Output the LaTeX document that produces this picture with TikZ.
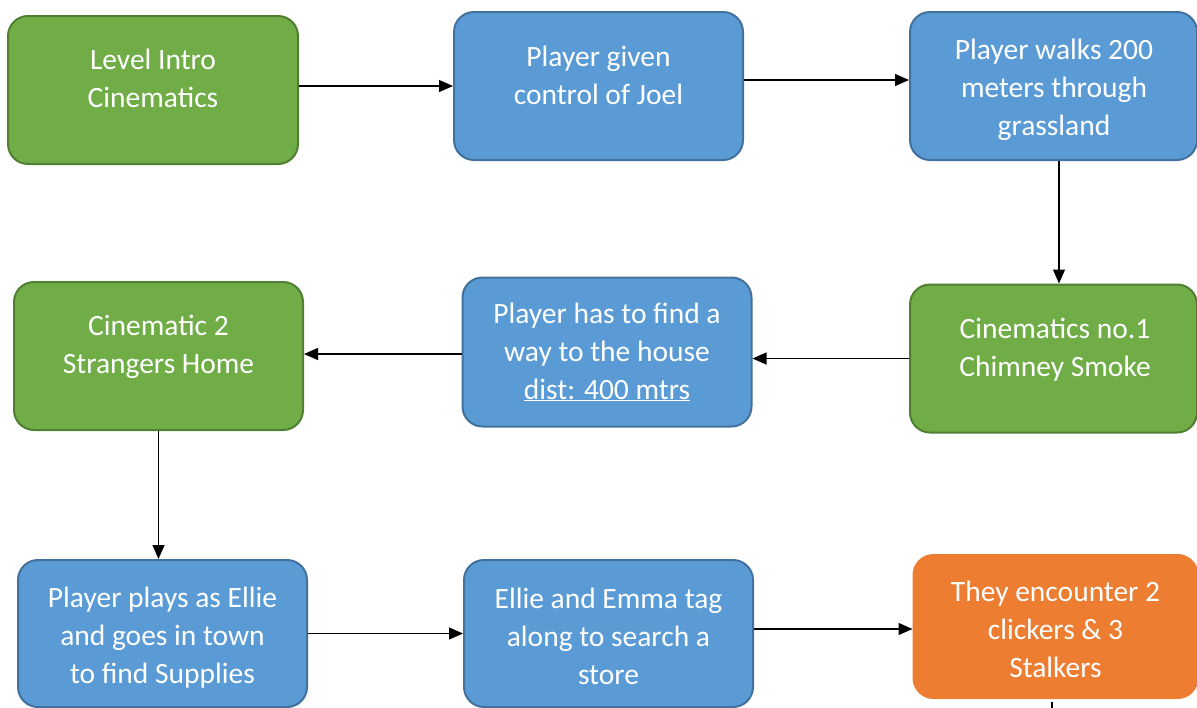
\documentclass[tikz,border=0pt]{standalone}
\usepackage{fontspec}
\setmainfont{Carlito}
\usetikzlibrary{arrows.meta}
\definecolor{gfill}{HTML}{70AD47}
\definecolor{gline}{HTML}{507E32}
\definecolor{bfill}{HTML}{5B9BD5}
\definecolor{bline}{HTML}{41719C}
\definecolor{ofill}{HTML}{ED7D31}
\tikzset{
  box/.style={rectangle, rounded corners=20pt, line width=2pt, inner sep=0pt},
  gbox/.style={box, fill=gfill, draw=gline},
  bbox/.style={box, fill=bfill, draw=bline},
  obox/.style={box, fill=ofill, draw=ofill},
  txt/.style={text=white, align=center, anchor=base, inner sep=0pt,
    font=\fontsize{29.5}{38}\selectfont},
  arr/.style={line width=1.2pt, -{Triangle[length=14pt,width=12pt]}},
  ln/.style={line width=1.2pt}
}
\begin{document}
\begin{tikzpicture}[x=1pt,y=-1pt]
\useasboundingbox (0,0) rectangle (1197,707);
\clip (0,0) rectangle (1197,707);
% boxes
\node[gbox, minimum width=290pt, minimum height=148pt] (b1) at (153,90) {};
\node[bbox, minimum width=289pt, minimum height=148pt] (b2) at (598.5,86) {};
\node[bbox, minimum width=287pt, minimum height=148pt] (b3) at (1053.5,86) {};
\node[gbox, minimum width=287pt, minimum height=148pt] (b4) at (1053.5,358.5) {};
\node[bbox, minimum width=289pt, minimum height=149pt] (b5) at (607,352) {};
\node[gbox, minimum width=289pt, minimum height=148pt] (b6) at (158.5,356) {};
\node[bbox, minimum width=289pt, minimum height=147pt] (b7) at (162.5,633.5) {};
\node[bbox, minimum width=289pt, minimum height=147pt] (b8) at (608.5,633.5) {};
\node[obox, minimum width=284pt, minimum height=143pt] (b9) at (1055.5,626.5) {};
% texts (anchor = baseline of last line)
\node[txt] (t1) at (153,107) {Level Intro\\Cinematics};
\node[txt] (t2) at (598.5,104) {Player given\\control of Joel};
\node[txt] (t3) at (1054,135) {Player walks 200\\meters through\\grassland};
\node[txt] (t4) at (1055,376) {Cinematics no.1\\Chimney Smoke};
\node[txt] (t5) at (607,399) {Player has to find a\\way to the house\\\underline{dist: 400 mtrs}};
\node[txt] (t6) at (158.5,373) {Cinematic 2\\Strangers Home};
\node[txt] (t7) at (162.5,683) {Player plays as Ellie\\and goes in town\\to find Supplies};
\node[txt] (t8) at (608.5,684) {Ellie and Emma tag\\along to search a\\store};
\node[txt] (t9) at (1055.5,677) {They encounter 2\\clickers \& 3\\Stalkers};
% connectors
\draw[arr] (b1.east |- b2.west) -- (b2.west);
\draw[arr] ([yshift=6pt]b2.east) -- ([yshift=6pt]b3.west);
\draw[arr] ([xshift=5.5pt]b3.south) -- ([xshift=5.5pt]b4.north);
\draw[arr] (b4.west) -- (b4.west -| b5.east);
\draw[arr] ([yshift=-2pt]b5.west) -- ([yshift=-2pt]b5.west -| b6.east);
\draw[arr] (b6.south) -- (b6.south |- b7.north);
\draw[arr] (b7.east) -- (b8.west);
\draw[arr] ([yshift=-2.5pt]b9.west -| b8.east) -- ([yshift=-2.5pt]b9.west);
\coordinate (c1) at (1052,702);
\coordinate (c2) at (1052,712);
\draw[ln] (c1) -- (c2);
\end{tikzpicture}
\end{document}
